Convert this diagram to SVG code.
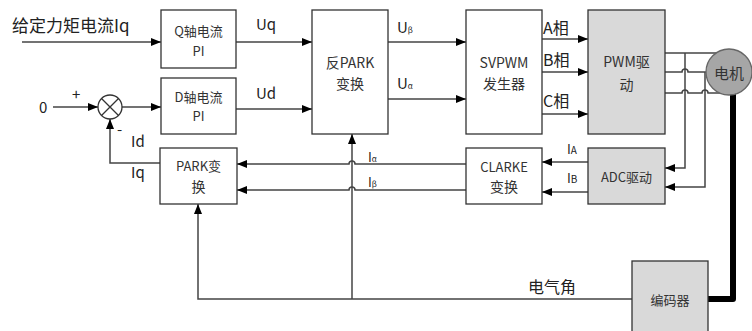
<svg xmlns="http://www.w3.org/2000/svg" width="752" height="331" viewBox="0 0 752 331">
<style>
text{font-family:"Noto Sans CJK SC","Liberation Sans",sans-serif;fill:#222}
.box{fill:#fff;stroke:#333;stroke-width:1.3}
.gbox{fill:#d9d9d9;stroke:#333;stroke-width:1.3}
.bt{font-size:13px;text-anchor:middle;dominant-baseline:central;fill:#333}
.lbl{font-size:15px}
.ln{fill:none;stroke:#444;stroke-width:1.5}
.arr{marker-end:url(#ah)}
.sub{font-size:8px}
</style>
<defs>
<marker id="ah" viewBox="0 0 10 8" refX="10" refY="4" markerWidth="11" markerHeight="8" markerUnits="userSpaceOnUse" orient="auto">
<path d="M0,0 L10,4 L0,8 z" fill="#000"/>
</marker>
</defs>
<rect width="752" height="331" fill="#fff"/>

<g id="connectors">
<path class="ln arr" d="M22,42 H161"/>
<path class="ln arr" d="M236,42 H312"/>
<path class="ln arr" d="M53,107 H98"/>
<path class="ln arr" d="M122,107 H161"/>
<path class="ln arr" d="M236,109 H312"/>
<path class="ln arr" d="M388,42 H466"/>
<path class="ln arr" d="M388,99 H466"/>
<path class="ln arr" d="M542,39 H588"/>
<path class="ln arr" d="M542,72 H588"/>
<path class="ln arr" d="M542,114 H588"/>
<path class="ln" d="M665,53 H720"/>
<path class="ln" d="M665,72 H682 a3,3 0 0 1 6,0 H710"/>
<path class="ln" d="M665,93 H682 a3,3 0 0 1 6,0 H702 a3,3 0 0 1 6,0 H722"/>
<path class="ln arr" d="M685,53 V168 H665"/>
<path class="ln arr" d="M705,72 V187 H665"/>
<path class="ln arr" d="M588,162 H542"/>
<path class="ln arr" d="M588,192 H542"/>
<path class="ln arr" d="M466,164 H355 a3,3 0 0 0 -6,0 H237"/>
<path class="ln arr" d="M466,190 H355 a3,3 0 0 0 -6,0 H237"/>
<path class="ln arr" d="M632,299 H198 V204"/>
<path class="ln arr" d="M352,299 V134"/>
<path class="ln arr" d="M160,163 H110 V119"/>
<path d="M708,299 H733 V92" fill="none" stroke="#000" stroke-width="6" stroke-linejoin="round" stroke-linecap="round"/>
</g>

<g id="labels">
<text x="12" y="32" style="font-size:17px">给定力矩电流Iq</text>
<text x="256" y="30" class="lbl">Uq</text>
<text x="256" y="99" class="lbl">Ud</text>
<text x="39" y="113" class="lbl">0</text>
<text x="72" y="100" style="font-size:15px">+</text>
<text x="117" y="135" style="font-size:15px">-</text>
<text x="131" y="147" class="lbl">Id</text>
<text x="131" y="178" class="lbl">Iq</text>
<text x="397" y="33" class="lbl">U<tspan class="sub">β</tspan></text>
<text x="397" y="89" class="lbl">U<tspan class="sub">α</tspan></text>
<text x="543" y="34" style="font-size:16px">A相</text>
<text x="543" y="66" style="font-size:16px">B相</text>
<text x="543" y="107" style="font-size:16px">C相</text>
<text x="567" y="154" style="font-size:13px">I<tspan style="font-size:10px">A</tspan></text>
<text x="567" y="183" style="font-size:13px">I<tspan style="font-size:10px">B</tspan></text>
<text x="368" y="162" style="font-size:13px">I<tspan class="sub">α</tspan></text>
<text x="368" y="187" style="font-size:13px">I<tspan class="sub">β</tspan></text>
<text x="528" y="293" style="font-size:16px">电气角</text>
</g>

<g id="sum">
<circle cx="110" cy="107" r="12" fill="#fff" stroke="#333" stroke-width="1.3"/>
<path d="M101.5,98.5 L118.5,115.5 M118.5,98.5 L101.5,115.5" stroke="#333" stroke-width="1.3"/>
</g>

<g id="q-pi">
<rect class="box" x="161" y="10" width="75" height="58"/>
<text class="bt" x="198.5" y="30">Q轴电流</text>
<text class="bt" x="198.5" y="50">PI</text>
</g>
<g id="d-pi">
<rect class="box" x="161" y="78" width="75" height="56"/>
<text class="bt" x="198.5" y="96">D轴电流</text>
<text class="bt" x="198.5" y="115">PI</text>
</g>
<g id="inv-park">
<rect class="box" x="312" y="10" width="76" height="124"/>
<text class="bt" x="350" y="62" style="font-size:14px">反PARK</text>
<text class="bt" x="350" y="83" style="font-size:14px">变换</text>
</g>
<g id="svpwm">
<rect class="box" x="466" y="10" width="76" height="124"/>
<text class="bt" x="504" y="62" style="font-size:14px">SVPWM</text>
<text class="bt" x="504" y="83" style="font-size:14px">发生器</text>
</g>
<g id="pwm">
<rect class="gbox" x="588" y="10" width="77" height="124"/>
<text class="bt" x="626.5" y="61" style="font-size:14px">PWM驱</text>
<text class="bt" x="626.5" y="84" style="font-size:14px">动</text>
</g>
<g id="park">
<rect class="box" x="160" y="148" width="77" height="56"/>
<text class="bt" x="198.5" y="165">PARK变</text>
<text class="bt" x="198.5" y="186" style="font-size:14px">换</text>
</g>
<g id="clarke">
<rect class="box" x="466" y="148" width="76" height="56"/>
<text class="bt" x="504" y="166">CLARKE</text>
<text class="bt" x="504" y="186" style="font-size:14px">变换</text>
</g>
<g id="adc">
<rect class="gbox" x="588" y="148" width="77" height="56"/>
<text class="bt" x="626.5" y="176">ADC驱动</text>
</g>
<g id="encoder">
<rect class="gbox" x="632" y="261" width="76" height="80"/>
<text class="bt" x="670" y="299">编码器</text>
</g>
<g id="motor">
<circle cx="729" cy="72" r="23" fill="#a6a6a6" stroke="#666" stroke-width="1.3"/>
<text class="bt" x="729" y="72" style="font-size:15px">电机</text>
</g>
</svg>
